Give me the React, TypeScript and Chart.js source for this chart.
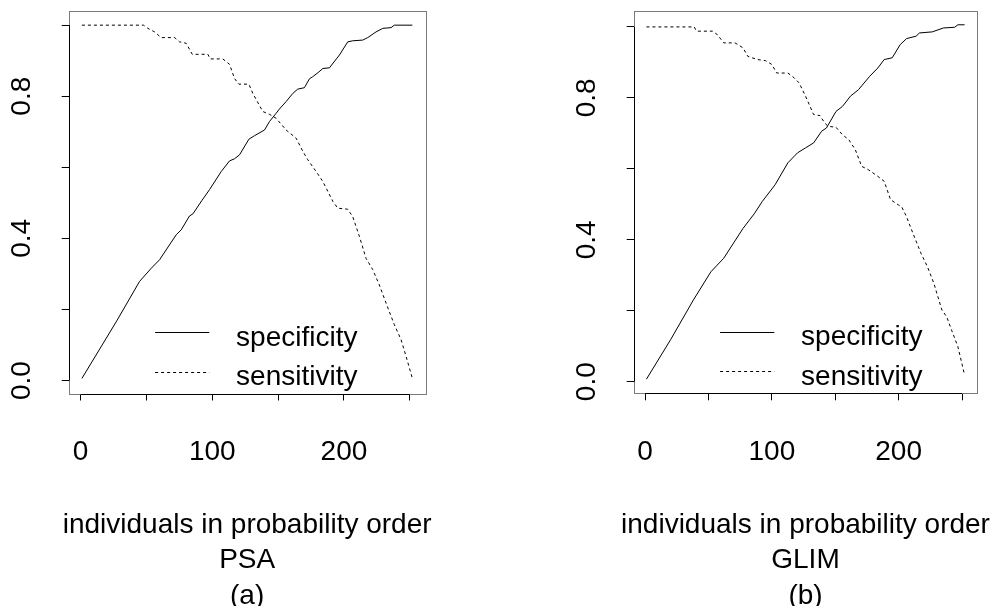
import React, { useEffect, useRef } from "react";
import { Chart, registerables } from "chart.js";

Chart.register(...registerables);

// ---------- data ----------
const psaSpecX = [1, 27, 44.8, 53.7, 60, 72.6, 76.4, 82.7, 85.3, 92, 97.9, 106.8, 113.1, 116.9, 120.7, 127.8, 132.1, 139.7, 143.5, 148.5, 151, 156.1, 161.2, 164.9, 170, 173.8, 176.3, 180.2, 184, 189, 196.6, 202.9, 206.7, 214.3, 218.1, 224.4, 229.5, 235.8, 238.3, 252];
const psaSpecY = [0.006, 0.165, 0.279, 0.316, 0.34, 0.41, 0.424, 0.463, 0.469, 0.506, 0.537, 0.588, 0.618, 0.624, 0.635, 0.679, 0.689, 0.705, 0.729, 0.752, 0.764, 0.785, 0.808, 0.82, 0.824, 0.849, 0.855, 0.866, 0.878, 0.88, 0.916, 0.953, 0.956, 0.958, 0.965, 0.981, 0.991, 0.993, 1.0, 1.0];

const psaSensX = [1, 47.8, 51.1, 56.2, 61.2, 71.4, 75.2, 80.2, 84.8, 96.7, 98.4, 108, 113.1, 116.9, 120.2, 127.8, 130.8, 138.4, 143.5, 148.5, 156.1, 163.7, 168.8, 172.6, 178.9, 184, 191.6, 195.3, 202.9, 206.7, 211.8, 216.8, 221.9, 226.9, 232, 238.3, 243.4, 247.2, 252];
const psaSensY = [1.0, 1.0, 0.991, 0.981, 0.965, 0.965, 0.953, 0.949, 0.918, 0.918, 0.905, 0.905, 0.89, 0.85, 0.834, 0.834, 0.808, 0.757, 0.749, 0.738, 0.705, 0.682, 0.645, 0.621, 0.588, 0.56, 0.504, 0.485, 0.482, 0.461, 0.405, 0.344, 0.312, 0.269, 0.218, 0.157, 0.115, 0.068, 0.006];

const glimSpecX = [1, 20, 38, 51.9, 62, 77.2, 86, 92.4, 102.5, 112.6, 120.2, 126.5, 132.9, 139.2, 143, 150.6, 155.7, 162, 168.3, 177.2, 183.5, 188.6, 194.9, 201.2, 206.2, 213.8, 216.4, 226.5, 235.3, 244.2, 246.7, 252];
const glimSpecY = [0.007, 0.118, 0.23, 0.31, 0.348, 0.432, 0.473, 0.508, 0.555, 0.617, 0.645, 0.659, 0.673, 0.706, 0.715, 0.762, 0.776, 0.805, 0.823, 0.861, 0.884, 0.908, 0.913, 0.95, 0.967, 0.974, 0.983, 0.986, 0.997, 0.999, 1.006, 1.006];

const glimSensX = [1, 38.7, 40.5, 53.1, 57, 62, 70.9, 77.2, 81, 88.6, 94.9, 100, 103.8, 112.6, 117.7, 121.5, 126.5, 132.9, 137.9, 141.7, 144.3, 150.6, 155.7, 160.7, 165.8, 170.8, 175.9, 183.5, 188.6, 193.6, 199.9, 202.4, 206.2, 211.3, 217.6, 222.7, 227.8, 234.1, 237.9, 241.7, 246.7, 252];
const glimSensY = [1.0, 1.0, 0.988, 0.988, 0.978, 0.955, 0.955, 0.941, 0.917, 0.908, 0.905, 0.894, 0.87, 0.87, 0.856, 0.842, 0.805, 0.753, 0.75, 0.729, 0.72, 0.717, 0.696, 0.682, 0.654, 0.607, 0.598, 0.579, 0.565, 0.513, 0.498, 0.493, 0.465, 0.418, 0.362, 0.324, 0.277, 0.202, 0.183, 0.146, 0.099, 0.019];

const xTickValues = [0, 50, 100, 150, 200, 250];
const xLabelValues = [0, 100, 200];
const xTickLabels = ["0", "100", "200"];
const yLabelValues = [0, 0.4, 0.8];
const yTickLabels = ["0.0", "0.4", "0.8"];
const seriesNames = ["specificity", "sensitivity"];
const captionA = ["individuals in probability order", "PSA", "(a)"];
const captionB = ["individuals in probability order", "GLIM", "(b)"];

const FONT = '"Liberation Sans", Arial, Helvetica, sans-serif';

function pts(xs: number[], ys: number[]) {
  return xs.map((x, i) => ({ x, y: ys[i] }));
}

function decorPlugin(caption: string[]) {
  return {
    id: "rdecor",
    afterDraw(chart: any) {
      const { ctx, chartArea: a, scales } = chart;
      const xs = scales.x;
      const ys = scales.y;
      ctx.save();
      // box
      const L = Math.round(a.left);
      const R = Math.round(a.right);
      const T = Math.round(a.top);
      const B = Math.round(a.bottom);
      ctx.strokeStyle = "#7a7a7a";
      ctx.lineWidth = 1;
      ctx.setLineDash([]);
      ctx.strokeRect(L + 0.5, T + 0.5, R - L, B - T);
      // axis lines spanning the ticks
      ctx.strokeStyle = "#000";
      ctx.beginPath();
      ctx.moveTo(xs.getPixelForValue(xTickValues[0]), B + 0.5);
      ctx.lineTo(xs.getPixelForValue(xTickValues[xTickValues.length - 1]), B + 0.5);
      ctx.moveTo(L + 0.5, ys.getPixelForValue(0));
      ctx.lineTo(L + 0.5, ys.getPixelForValue(1));
      ctx.stroke();
      // rotated y labels
      ctx.fillStyle = "#000";
      ctx.font = `28px ${FONT}`;
      ctx.textAlign = "center";
      ctx.textBaseline = "middle";
      yLabelValues.forEach((v, i) => {
        ctx.save();
        ctx.translate(a.left - 46.2, ys.getPixelForValue(v));
        ctx.rotate(-Math.PI / 2);
        ctx.fillText(yTickLabels[i], 0, 0);
        ctx.restore();
      });
      // legend
      const lx1 = a.left + 86.4;
      const lx2 = a.left + 140.6;
      const ly = [a.bottom - 61.5, a.bottom - 22];
      ctx.lineWidth = 1;
      ctx.strokeStyle = "#000";
      [[], [3, 3]].forEach((dash, i) => {
        ctx.setLineDash(dash);
        ctx.beginPath();
        ctx.moveTo(lx1, Math.round(ly[i]) + 0.5);
        ctx.lineTo(lx2, Math.round(ly[i]) + 0.5);
        ctx.stroke();
      });
      ctx.setLineDash([]);
      ctx.textAlign = "left";
      ctx.textBaseline = "alphabetic";
      seriesNames.forEach((n, i) => {
        ctx.fillText(n, a.left + 167.4, ly[i] + 13.6);
      });
      // caption
      ctx.textAlign = "center";
      const cx = (a.left + a.right) / 2;
      const base = [532.7, 568.3, 604];
      caption.forEach((t, i) => ctx.fillText(t, cx, base[i]));
      ctx.restore();
    },
  };
}

function makeChart(
  canvas: HTMLCanvasElement,
  specX: number[],
  specY: number[],
  sensX: number[],
  sensY: number[],
  yMin: number,
  yMax: number,
  padRight: number,
  bottomPx: number,
  caption: string[]
) {
  return new Chart(canvas, {
    type: "line",
    data: {
      datasets: [
        {
          label: seriesNames[0],
          data: pts(specX, specY),
          borderColor: "#000",
          borderWidth: 1,
          pointRadius: 0,
          tension: 0,
          fill: false,
        },
        {
          label: seriesNames[1],
          data: pts(sensX, sensY),
          borderColor: "#000",
          borderWidth: 1,
          borderDash: [3, 3],
          pointRadius: 0,
          tension: 0,
          fill: false,
        },
      ],
    },
    options: {
      animation: false,
      responsive: false,
      events: [],
      layout: { padding: { left: 0, top: 11.3, right: padRight, bottom: 0 } },
      plugins: { legend: { display: false }, tooltip: { enabled: false }, title: { display: false } },
      scales: {
        x: {
          type: "linear",
          min: -9.04,
          max: 262.04,
          afterFit: (s: any) => {
            s.height = 606 - bottomPx;
          },
          afterBuildTicks: (s: any) => {
            s.ticks = xTickValues.map((v) => ({ value: v }));
          },
          border: { display: false },
          grid: { drawOnChartArea: false, drawTicks: true, tickLength: 7, color: "#000", lineWidth: 1 },
          ticks: {
            autoSkip: false,
            maxRotation: 0,
            minRotation: 0,
            padding: 34.7,
            color: "#000",
            font: { family: FONT, size: 28, lineHeight: 1.2 },
            callback: (v: any) => {
              const i = xLabelValues.indexOf(Number(v));
              return i >= 0 ? xTickLabels[i] : "";
            },
          },
        },
        y: {
          type: "linear",
          min: yMin,
          max: yMax,
          afterFit: (s: any) => {
            s.width = 68.7;
          },
          afterBuildTicks: (s: any) => {
            s.ticks = [0, 0.2, 0.4, 0.6, 0.8, 1.0].map((v) => ({ value: v }));
          },
          border: { display: false },
          grid: { drawOnChartArea: false, drawTicks: true, tickLength: 7, color: "#000", lineWidth: 1 },
          ticks: { display: false },
        },
      },
    },
    plugins: [decorPlugin(caption)],
  } as any);
}

export default function App() {
  const refA = useRef<HTMLCanvasElement>(null);
  const refB = useRef<HTMLCanvasElement>(null);

  useEffect(() => {
    const a = makeChart(refA.current!, psaSpecX, psaSpecY, psaSensX, psaSensY, -0.0365, 1.039, 139.4, 393.5, captionA);
    const b = makeChart(refB.current!, glimSpecX, glimSpecY, glimSensX, glimSensY, -0.0327, 1.044, 6, 393.3, captionB);
    return () => {
      a.destroy();
      b.destroy();
    };
  }, []);

  return (
    <div style={{ position: "fixed", left: 0, top: 0, width: 997, height: 606, overflow: "hidden", background: "#fff" }}>
      <canvas ref={refA} width={565} height={606} style={{ position: "absolute", left: 0, top: 0 }} />
      <canvas ref={refB} width={432} height={606} style={{ position: "absolute", left: 565, top: 0 }} />
    </div>
  );
}
